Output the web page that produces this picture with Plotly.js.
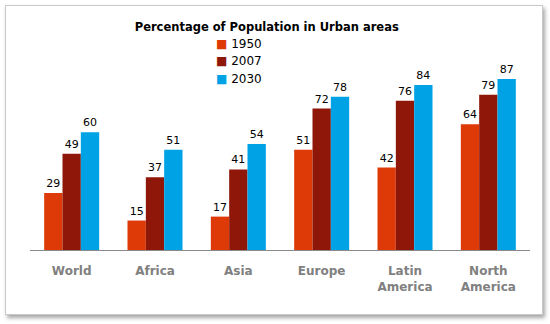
<!DOCTYPE html>
<html><head><meta charset="utf-8">
<script src="https://cdn.plot.ly/plotly-3.0.1.min.js"></script>
<style>
body{margin:0;padding:0;background:#fff;}
#frame{position:absolute;left:5px;top:5px;width:536px;height:308px;border:1px solid #c8c8c8;box-shadow:2px 3px 4px rgba(0,0,0,0.35);background:#fff;}
#chart{position:absolute;left:0;top:0;width:550px;height:324px;}
</style></head>
<body>
<div id="frame"></div>
<div id="chart"></div>
<script>
const categories = ["World","Africa","Asia","Europe","Latin<br>America","North<br>America"];
const years = ["1950","2007","2030"];
const v1950 = [29,15,17,51,42,64];
const v2007 = [49,37,41,72,76,79];
const v2030 = [60,51,54,78,84,87];
const colors = ["#DE3A08","#8E1709","#00A2E6"];
const series = [v1950,v2007,v2030];
const traces = series.map((vals,i)=>({
  type:"bar", x:categories, y:vals, name:years[i],
  marker:{color:colors[i]},
  text:vals.map(String), textposition:"outside",
  textfont:{family:"DejaVu Sans", size:11, color:"#000"},
  cliponaxis:false
}));
const legendAnn = years.map((yr,i)=>({
  xref:"paper", yref:"paper", x:0.367, y:0.935 - i*0.078, xanchor:"left", yanchor:"middle",
  showarrow:false, align:"left",
  text:'<span style="color:'+colors[i]+'">■</span> '+yr,
  font:{family:"DejaVu Sans", size:12, color:"#000"}
}));
const layout = {
  width:550, height:324,
  paper_bgcolor:"rgba(0,0,0,0)", plot_bgcolor:"rgba(0,0,0,0)",
  margin:{l:30,r:20,t:30,b:74},
  title:{text:"<b>Percentage of Population in Urban areas</b>", x:0.485, xanchor:"center", y:0.918, yanchor:"middle",
    font:{family:"DejaVu Sans", size:11.5, color:"#000"}},
  barmode:"group", bargap:0.34, bargroupgap:0,
  showlegend:false,
  annotations:legendAnn,
  xaxis:{showline:true, linecolor:"#8a8a8a", linewidth:1, ticks:"", showgrid:false, ticklabelstandoff:10,
    tickfont:{family:"DejaVu Sans", size:12, color:"#808080", weight:"bold"}},
  yaxis:{range:[0,112], visible:false, showgrid:false, zeroline:false}
};
Plotly.newPlot("chart", traces, layout, {displayModeBar:false, staticPlot:true});
</script>
</body></html>
